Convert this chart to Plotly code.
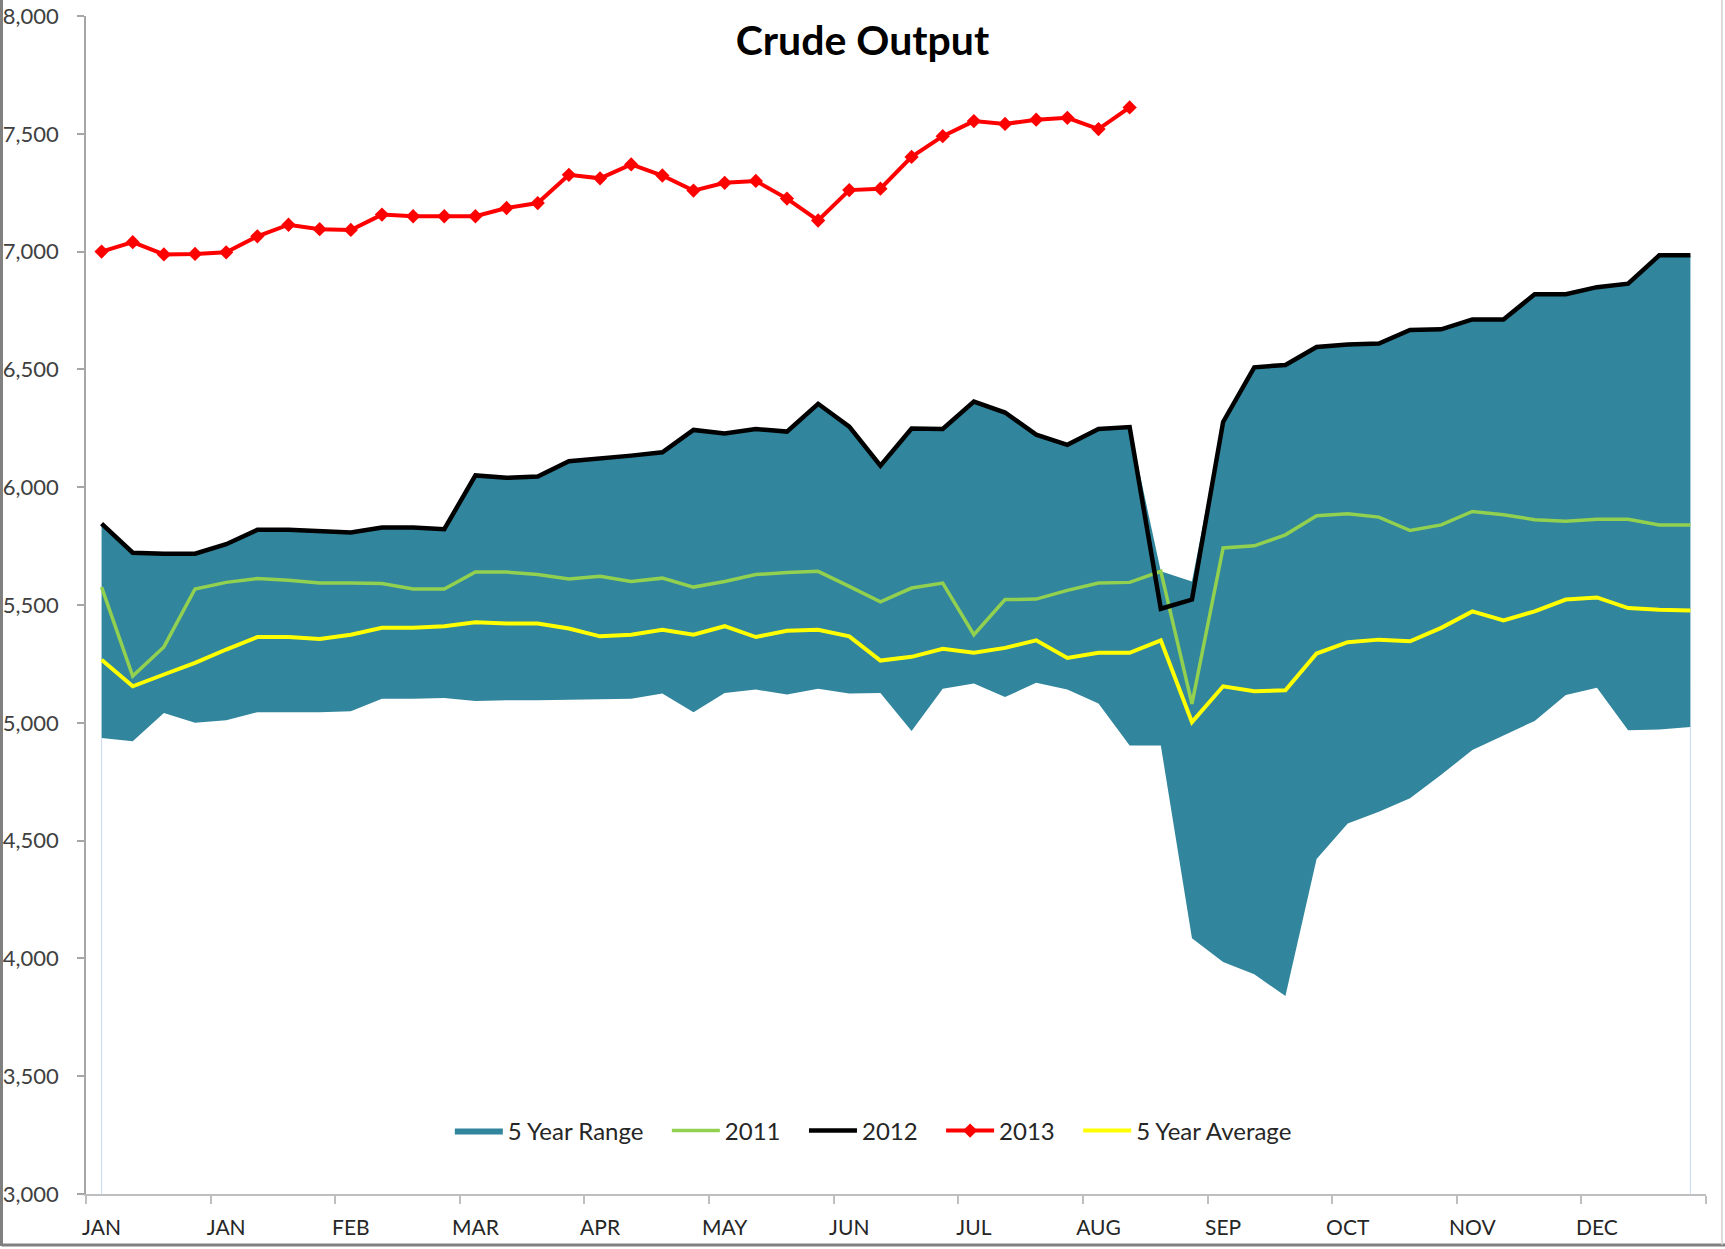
import plotly.graph_objects as go

# ---- data (weekly index 0..51) ----
month_labels = ["JAN", "JAN", "FEB", "MAR", "APR", "MAY", "JUN", "JUL", "AUG", "SEP", "OCT", "NOV", "DEC"]
weeks = list(range(52))

range_low = [4935, 4922, 5042, 5000, 5011, 5045, 5045, 5045, 5049, 5102, 5102, 5105,
             5092, 5096, 5096, 5099, 5102, 5102, 5124, 5045, 5127, 5141, 5120, 5144,
             5124, 5127, 4965, 5144, 5167, 5109, 5170, 5141, 5082, 4904, 4904, 4085,
             3985, 3933, 3840, 4422, 4573, 4622, 4680, 4779, 4885, 4946, 5008, 5118,
             5149, 4968, 4972, 4982]
range_high = [5845, 5722, 5718, 5718, 5758, 5819, 5819, 5812, 5808, 5829, 5829, 5822,
              6050, 6040, 6045, 6110, 6120, 6134, 6148, 6243, 6228, 6247, 6236, 6354,
              6257, 6091, 6249, 6247, 6363, 6317, 6223, 6180, 6247, 6255, 5643, 5600,
              6277, 6509, 6519, 6595, 6606, 6610, 6667, 6670, 6712, 6712, 6819, 6819,
              6849, 6864, 6984, 6984]
y2011 = [5576, 5198, 5322, 5568, 5596, 5612, 5605, 5593, 5593, 5591, 5568, 5568,
         5640, 5640, 5629, 5610, 5622, 5600, 5614, 5576, 5600, 5629, 5638, 5643,
         5579, 5513, 5572, 5593, 5374, 5523, 5525, 5562, 5593, 5596, 5643, 5080,
         5742, 5751, 5798, 5879, 5887, 5873, 5816, 5840, 5897, 5883, 5862, 5855,
         5864, 5864, 5840, 5840]
y2012 = [5845, 5722, 5718, 5718, 5758, 5819, 5819, 5812, 5808, 5829, 5829, 5822,
         6050, 6040, 6045, 6110, 6120, 6134, 6148, 6243, 6228, 6247, 6236, 6354,
         6257, 6091, 6249, 6247, 6363, 6317, 6223, 6180, 6247, 6255, 5484, 5523,
         6277, 6509, 6519, 6595, 6606, 6610, 6667, 6670, 6712, 6712, 6819, 6819,
         6849, 6864, 6984, 6984]
y2013 = [7000, 7040, 6988, 6990, 6997, 7065, 7114, 7095, 7092, 7157, 7150, 7150,
         7150, 7185, 7206, 7326, 7311, 7370, 7323, 7259, 7292, 7300, 7225, 7132,
         7261, 7267, 7402, 7490, 7554, 7542, 7560, 7568, 7520, 7612]
avg5 = [5268, 5155, 5205, 5254, 5311, 5364, 5364, 5356, 5374, 5403, 5403, 5410,
        5427, 5421, 5421, 5400, 5367, 5374, 5395, 5374, 5410, 5364, 5391, 5395,
        5367, 5264, 5280, 5314, 5297, 5318, 5350, 5275, 5297, 5297, 5350, 5003,
        5155, 5134, 5138, 5294, 5342, 5353, 5346, 5403, 5473, 5435, 5473, 5523,
        5532, 5487, 5480, 5477]

Y_MIN, Y_MAX = 3000, 8000

TEAL = "#31859C"
FONT = "Lato"
W, H = 1725, 1249
ML, MR, MT, MB = 86, 19, 16, 55
PAD = "\u00a0\u00a0\u00a0"  # spacing after legend entries

fig = go.Figure()
fig.add_trace(go.Scatter(x=weeks, y=range_low, mode="lines", line=dict(width=0, color=TEAL),
                         showlegend=False, hoverinfo="skip"))
fig.add_trace(go.Scatter(x=weeks, y=range_high, mode="lines", line=dict(width=0, color=TEAL),
                         fill="tonexty", fillcolor=TEAL, name="5 Year Range" + PAD))
fig.add_trace(go.Scatter(x=weeks, y=y2011, mode="lines", line=dict(color="#92D050", width=3.5),
                         name="2011" + PAD))
fig.add_trace(go.Scatter(x=weeks, y=y2012, mode="lines", line=dict(color="#000000", width=4.5),
                         name="2012" + PAD))
fig.add_trace(go.Scatter(x=weeks[:len(y2013)], y=y2013, mode="lines+markers",
                         line=dict(color="#FF0000", width=4),
                         marker=dict(symbol="diamond", size=11, color="#FF0000"),
                         name="2013" + PAD))
fig.add_trace(go.Scatter(x=weeks, y=avg5, mode="lines", line=dict(color="#FFFF00", width=4),
                         name="5 Year Average"))

# thin light-blue edges of the (invisible) base area
for i in (weeks[0], weeks[-1]):
    fig.add_shape(type="line", xref="x", yref="y", x0=i, x1=i, y0=Y_MIN, y1=range_low[i],
                  line=dict(color="#C6D9F1", width=1), layer="below")

# frame around image
pw = W - ML - MR
ph = H - MT - MB
fig.add_shape(type="line", xref="paper", yref="paper", x0=-(ML - 1.5) / pw, x1=-(ML - 1.5) / pw,
              y0=-(MB - 3) / ph, y1=1 + MT / ph, line=dict(color="#808080", width=3))
fig.add_shape(type="line", xref="paper", yref="paper", x0=-(ML - 1.5) / pw, x1=1 + MR / pw,
              y0=-(MB - 4) / ph, y1=-(MB - 4) / ph, line=dict(color="#808080", width=3))
fig.add_shape(type="line", xref="paper", yref="paper", x0=1 + (MR - 3) / pw, x1=1 + (MR - 3) / pw,
              y0=-(MB - 4) / ph, y1=1 + MT / ph, line=dict(color="#D0D0D0", width=1.5))

label_pos = weeks[::4]
boundaries = [i - 0.5 for i in range(0, 53, 4)]

fig.update_layout(
    width=W, height=H, autosize=False,
    margin=dict(l=ML, r=MR, t=MT, b=MB, autoexpand=False),
    paper_bgcolor="white", plot_bgcolor="white",
    font=dict(family=FONT, size=22, color="#404040"),
    title=dict(text="<b>Crude Output</b>", x=0.5, xref="container", xanchor="center",
               y=1 - 41 / H, yref="container", yanchor="middle",
               font=dict(family=FONT, size=41, color="#000000")),
    showlegend=True,
    legend=dict(orientation="h", traceorder="normal", x=0.486, xanchor="center",
                y=0.0535, yanchor="middle",
                font=dict(family=FONT, size=24, color="#262626"), bgcolor="rgba(0,0,0,0)",
                itemwidth=48, tracegroupgap=0),
    xaxis=dict(range=[boundaries[0], boundaries[-1]], tickmode="array", tickvals=label_pos,
               ticktext=month_labels, ticks="", showgrid=False, zeroline=False,
               showline=True, linecolor="#BFBFBF", linewidth=2, ticklabelstandoff=14,
               automargin=False,
               tickfont=dict(family=FONT, size=21, color="#262626"),
               minor=dict(tickmode="array", tickvals=boundaries, ticks="outside", ticklen=8,
                          tickcolor="#BFBFBF", tickwidth=1.5, showgrid=False)),
    yaxis=dict(range=[Y_MIN, Y_MAX], tickmode="linear", tick0=Y_MIN, dtick=500,
               tickformat=",d", ticks="outside", ticklen=7, tickcolor="#A6A6A6", tickwidth=1.5,
               showline=True, linecolor="#A6A6A6", linewidth=1.5, showgrid=False,
               zeroline=False, ticklabelstandoff=14, automargin=False,
               tickfont=dict(family=FONT, size=22, color="#404040")),
)

fig.write_html("out.html", config={"displayModeBar": False},
               post_script="document.body.style.margin='0';")
